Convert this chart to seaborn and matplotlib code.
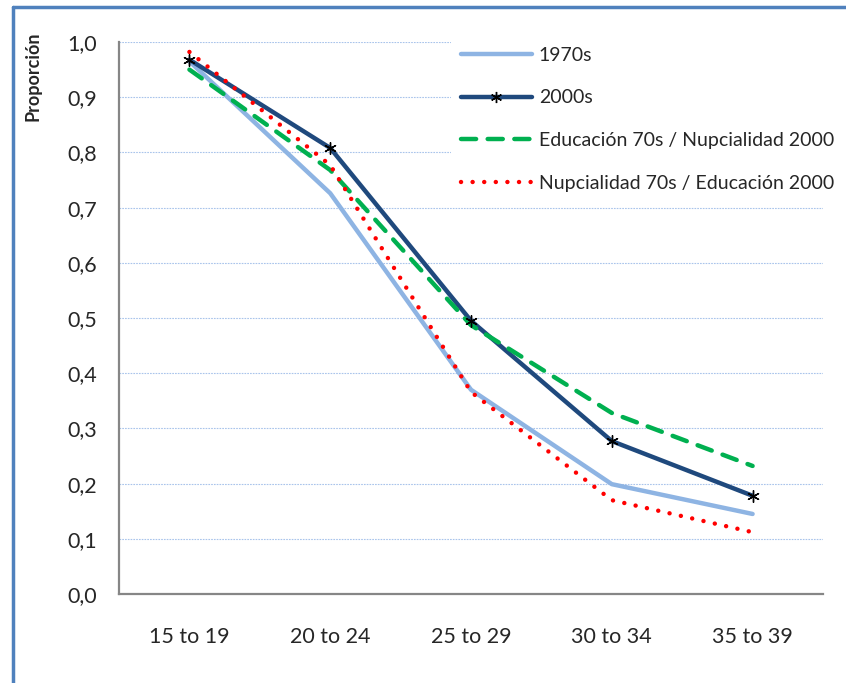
import matplotlib
matplotlib.use("Agg")
import matplotlib.pyplot as plt
import matplotlib.ticker as mticker
from matplotlib.lines import Line2D
import numpy as np
import pandas as pd
import seaborn as sns

# ── data ────────────────────────────────────────────────────────────────────
age_groups = ["15 to 19", "20 to 24", "25 to 29", "30 to 34", "35 to 39"]
s_1970s = [0.965, 0.726, 0.370, 0.199, 0.145]
s_2000s = [0.968, 0.808, 0.495, 0.277, 0.178]
s_edu70_nup00 = [0.950, 0.768, 0.487, 0.328, 0.232]
s_nup70_edu00 = [0.982, 0.777, 0.366, 0.170, 0.112]
series_names = ["1970s", "2000s",
                "Educación 70s / Nupcialidad 2000",
                "Nupcialidad 70s / Educación 2000"]
y_ticks = np.round(np.arange(0, 1.01, 0.1), 1)

df = pd.DataFrame({
    "grupo": age_groups * 4,
    "pos": list(range(len(age_groups))) * 4,
    "valor": s_1970s + s_2000s + s_edu70_nup00 + s_nup70_edu00,
    "serie": np.repeat(series_names, len(age_groups)),
})

sns.set_style("white")
plt.rcParams["font.family"] = ["Lato", "DejaVu Sans"]

colors = {
    "1970s": "#8EB4E3",
    "2000s": "#1F497D",
    "Educación 70s / Nupcialidad 2000": "#00B050",
    "Nupcialidad 70s / Educación 2000": "#FF0000",
}
styles = {
    "1970s": dict(linestyle="-", solid_capstyle="round"),
    "2000s": dict(linestyle="-", solid_capstyle="round"),
    "Educación 70s / Nupcialidad 2000": dict(linestyle=(0, (3.4, 2.6)), dash_capstyle="round"),
    "Nupcialidad 70s / Educación 2000": dict(linestyle=(0, (0.01, 2.6)), dash_capstyle="round"),
}

fig = plt.figure(figsize=(8.46, 6.83), dpi=100)
ax = fig.add_axes([0.1407, 0.1303, 0.8321, 0.8082])

for name in series_names:
    sub = df[df["serie"] == name]
    sns.lineplot(data=sub, x="pos", y="valor", ax=ax, color=colors[name],
                 linewidth=3.2, legend=False, estimator=None, sort=False,
                 **styles[name])

# star markers on 2000s series
sub = df[df["serie"] == "2000s"]
ax.scatter(sub["pos"], sub["valor"], marker=(6, 2, 0), s=70,
           color="black", linewidths=1.0, zorder=5)

ax.set_xlim(-0.5, len(age_groups) - 0.5)
ax.set_ylim(0, 1.0)
ax.set_yticks(y_ticks)
ax.yaxis.set_major_formatter(mticker.FuncFormatter(lambda v, p: f"{v:.1f}".replace(".", ",")))
ax.set_xticks(np.arange(len(age_groups) + 1) - 0.5)
ax.set_xticklabels([])
ax.set_xticks(np.arange(len(age_groups)), minor=True)
ax.set_xticklabels(age_groups, minor=True)
ax.tick_params(axis="x", which="major", length=7, width=1.2, color="#868686", direction="out")
ax.tick_params(axis="x", which="minor", length=0, labelsize=15.5, pad=24)
ax.tick_params(axis="y", length=0, labelsize=15.5, pad=16)

ax.grid(axis="y", color="#A9C4EB", linestyle=(0, (1.5, 1)), linewidth=0.8)
ax.set_axisbelow(True)
for sp in ["top", "right"]:
    ax.spines[sp].set_visible(False)
for sp in ["left", "bottom"]:
    ax.spines[sp].set_color("#868686")
    ax.spines[sp].set_linewidth(1.6)

ax.set_xlabel("")
ax.set_ylabel("")
fig.text(33 / 846, 1 - 76 / 683, "Proporción", rotation=90, fontsize=13,
         fontweight="bold", ha="center", va="center")

handles = [
    Line2D([], [], color=colors["1970s"], linewidth=3.2, **styles["1970s"]),
    Line2D([], [], color=colors["2000s"], linewidth=3.2, marker=(6, 2, 0),
           markersize=8, markeredgecolor="black", markerfacecolor="black",
           markeredgewidth=1.0, **styles["2000s"]),
    Line2D([], [], color=colors[series_names[2]], linewidth=3.2, **styles[series_names[2]]),
    Line2D([], [], color=colors[series_names[3]], linewidth=3.2, **styles[series_names[3]]),
]
leg = fig.legend(handles, series_names, loc="upper left",
                 bbox_to_anchor=(0.533, 0.9458), fontsize=14, frameon=True,
                 handlelength=3.66, labelspacing=1.32, handletextpad=0.36,
                 borderpad=0.5, borderaxespad=0)
leg.get_frame().set_facecolor("white")
leg.get_frame().set_edgecolor("none")
leg.get_frame().set_alpha(1)

# outer chart border (left and top)
fig.add_artist(Line2D([0.0155, 0.0155], [0, 0.99], transform=fig.transFigure,
                      color="#4F81BD", linewidth=2.5))
fig.add_artist(Line2D([0.0155, 1.0], [0.99, 0.99], transform=fig.transFigure,
                      color="#4F81BD", linewidth=2.5))

fig.savefig("out.png", dpi=100)
